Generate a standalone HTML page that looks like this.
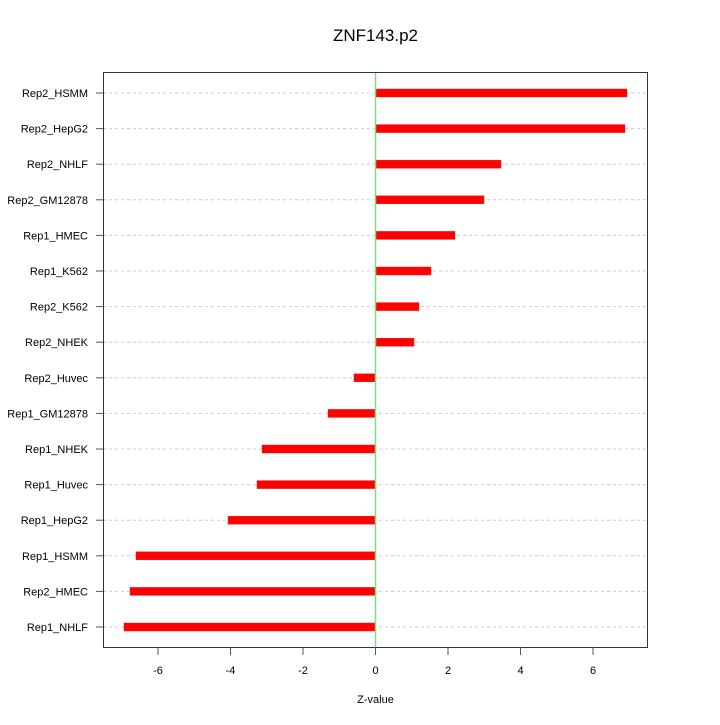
<!DOCTYPE html>
<html><head><meta charset="utf-8"><style>body{margin:0;background:#fff}</style></head><body>
<svg width="720" height="720" xmlns="http://www.w3.org/2000/svg" font-family="Liberation Sans, sans-serif">
<rect width="720" height="720" fill="#fff"/>
<text x="375.5" y="41" font-size="17" text-anchor="middle">ZNF143.p2</text>
<g stroke="#ccc" stroke-dasharray="3,3">
<line x1="103" y1="93" x2="647" y2="93"/><line x1="103" y1="128.6" x2="647" y2="128.6"/><line x1="103" y1="164.2" x2="647" y2="164.2"/><line x1="103" y1="199.8" x2="647" y2="199.8"/><line x1="103" y1="235.4" x2="647" y2="235.4"/><line x1="103" y1="271" x2="647" y2="271"/><line x1="103" y1="306.6" x2="647" y2="306.6"/><line x1="103" y1="342.2" x2="647" y2="342.2"/><line x1="103" y1="377.8" x2="647" y2="377.8"/><line x1="103" y1="413.4" x2="647" y2="413.4"/><line x1="103" y1="449" x2="647" y2="449"/><line x1="103" y1="484.6" x2="647" y2="484.6"/><line x1="103" y1="520.2" x2="647" y2="520.2"/><line x1="103" y1="555.8" x2="647" y2="555.8"/><line x1="103" y1="591.4" x2="647" y2="591.4"/><line x1="103" y1="627" x2="647" y2="627"/>
</g>
<g fill="#ff0000" stroke="#e22" stroke-width="0.5">
<rect x="375.5" y="89" width="251.5" height="8"/>
<rect x="375.5" y="124.6" width="249.5" height="8"/>
<rect x="375.5" y="160.2" width="125.5" height="8"/>
<rect x="375.5" y="195.8" width="108.5" height="8"/>
<rect x="375.5" y="231.4" width="79.5" height="8"/>
<rect x="375.5" y="267" width="55.5" height="8"/>
<rect x="375.5" y="302.6" width="43.5" height="8"/>
<rect x="375.5" y="338.2" width="38.5" height="8"/>
<rect x="354" y="373.8" width="21.5" height="8"/>
<rect x="328" y="409.4" width="47.5" height="8"/>
<rect x="262" y="445" width="113.5" height="8"/>
<rect x="257" y="480.6" width="118.5" height="8"/>
<rect x="228" y="516.2" width="147.5" height="8"/>
<rect x="136" y="551.8" width="239.5" height="8"/>
<rect x="130" y="587.4" width="245.5" height="8"/>
<rect x="124" y="623" width="251.5" height="8"/>
</g>
<line x1="375.5" y1="72" x2="375.5" y2="647" stroke="#7fdc7f" stroke-width="1.5"/>
<rect x="103.5" y="72.5" width="544" height="575" fill="none" stroke="#333" stroke-width="1"/>
<g stroke="#555">
<line x1="158" y1="647" x2="158" y2="655"/><line x1="230.5" y1="647" x2="230.5" y2="655"/><line x1="303" y1="647" x2="303" y2="655"/><line x1="375.5" y1="647" x2="375.5" y2="655"/><line x1="448" y1="647" x2="448" y2="655"/><line x1="520.5" y1="647" x2="520.5" y2="655"/><line x1="593" y1="647" x2="593" y2="655"/>
<line x1="96" y1="93" x2="103" y2="93"/><line x1="96" y1="128.6" x2="103" y2="128.6"/><line x1="96" y1="164.2" x2="103" y2="164.2"/><line x1="96" y1="199.8" x2="103" y2="199.8"/><line x1="96" y1="235.4" x2="103" y2="235.4"/><line x1="96" y1="271" x2="103" y2="271"/><line x1="96" y1="306.6" x2="103" y2="306.6"/><line x1="96" y1="342.2" x2="103" y2="342.2"/><line x1="96" y1="377.8" x2="103" y2="377.8"/><line x1="96" y1="413.4" x2="103" y2="413.4"/><line x1="96" y1="449" x2="103" y2="449"/><line x1="96" y1="484.6" x2="103" y2="484.6"/><line x1="96" y1="520.2" x2="103" y2="520.2"/><line x1="96" y1="555.8" x2="103" y2="555.8"/><line x1="96" y1="591.4" x2="103" y2="591.4"/><line x1="96" y1="627" x2="103" y2="627"/>
</g>
<g font-size="11" text-anchor="end">
<text x="88" y="97">Rep2_HSMM</text><text x="88" y="132.6">Rep2_HepG2</text><text x="88" y="168.2">Rep2_NHLF</text><text x="88" y="203.8">Rep2_GM12878</text><text x="88" y="239.4">Rep1_HMEC</text><text x="88" y="275">Rep1_K562</text><text x="88" y="310.6">Rep2_K562</text><text x="88" y="346.2">Rep2_NHEK</text><text x="88" y="381.8">Rep2_Huvec</text><text x="88" y="417.4">Rep1_GM12878</text><text x="88" y="453">Rep1_NHEK</text><text x="88" y="488.6">Rep1_Huvec</text><text x="88" y="524.2">Rep1_HepG2</text><text x="88" y="559.8">Rep1_HSMM</text><text x="88" y="595.4">Rep2_HMEC</text><text x="88" y="631">Rep1_NHLF</text>
</g>
<g font-size="11" text-anchor="middle">
<text x="158" y="674">-6</text><text x="230.5" y="674">-4</text><text x="303" y="674">-2</text><text x="375.5" y="674">0</text><text x="448" y="674">2</text><text x="520.5" y="674">4</text><text x="593" y="674">6</text>
<text x="375.5" y="703">Z-value</text>
</g>
</svg>
</body></html>
